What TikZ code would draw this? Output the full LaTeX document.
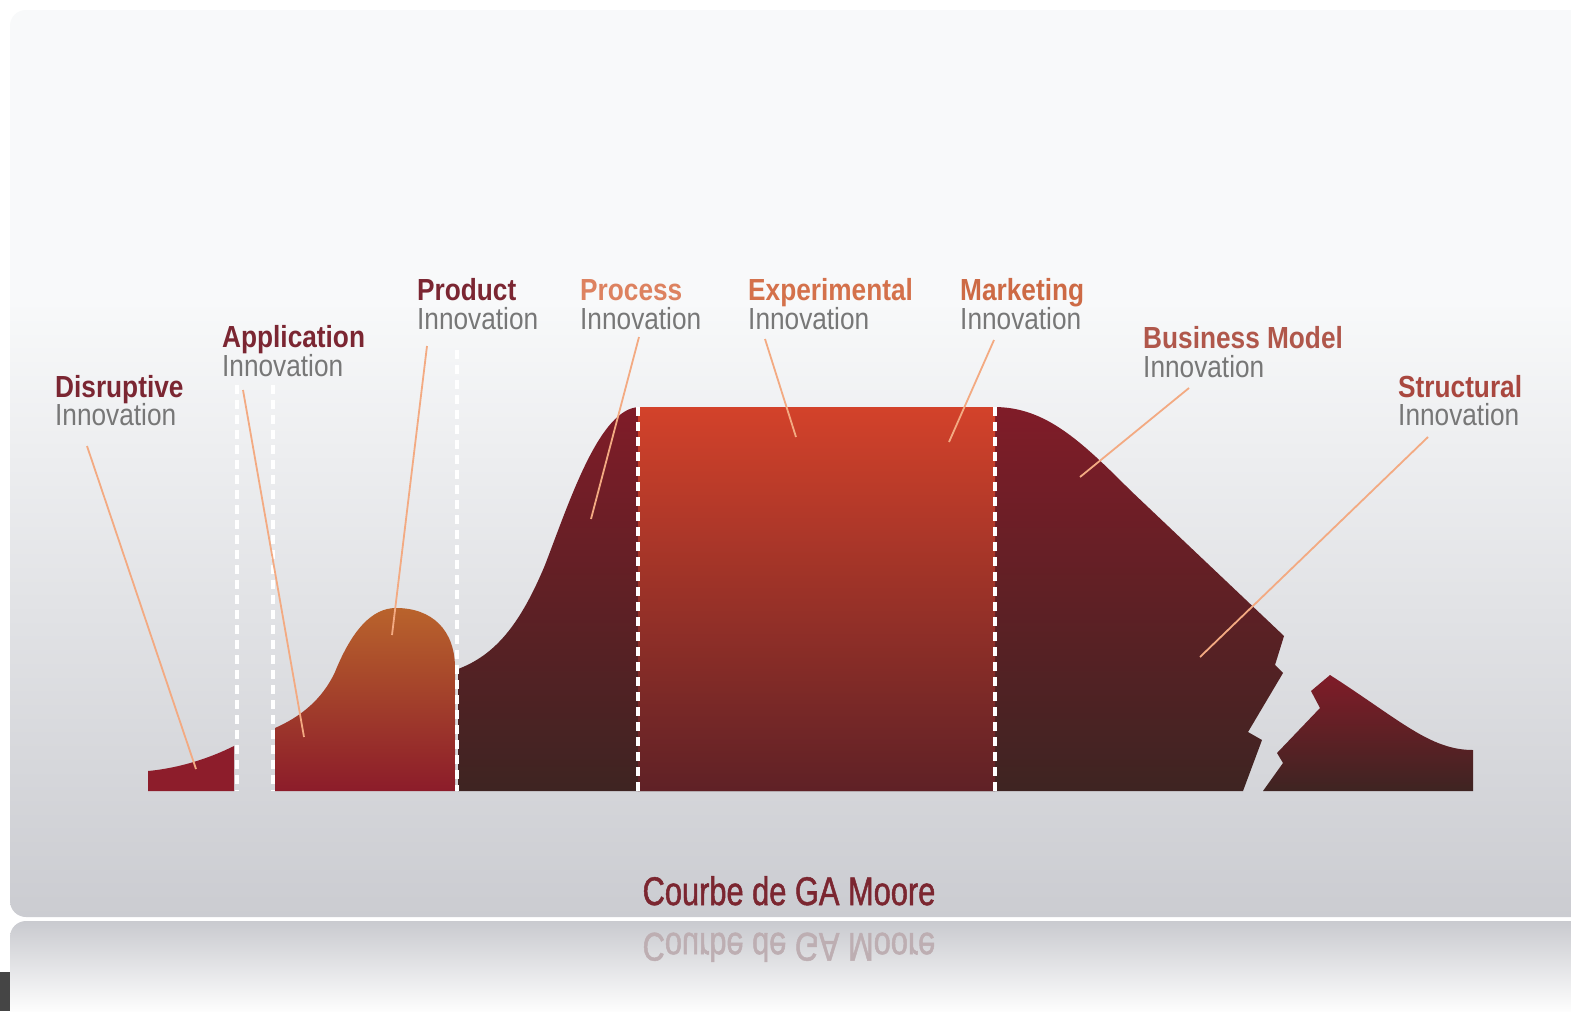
\documentclass[tikz,border=0pt]{standalone}
\usepackage{fontspec}
\newfontfamily\lblfont[FakeStretch=0.86]{Liberation Sans}
\newfontfamily\ttlfont[FakeStretch=0.77,FakeBold=1.2]{Liberation Sans}
\definecolor{bgTop}{HTML}{F8F9FA}
\definecolor{bgMid}{HTML}{E8E9EB}
\definecolor{bgBot}{HTML}{CBCCD1}
\definecolor{refTop}{HTML}{C9CACF}
\definecolor{refMid}{HTML}{DEDFE2}
\definecolor{refBot}{HTML}{FDFDFD}
\definecolor{maroonT}{HTML}{7B2632}
\definecolor{procT}{HTML}{DD8260}
\definecolor{expT}{HTML}{D4714B}
\definecolor{mktT}{HTML}{CD6A45}
\definecolor{bizT}{HTML}{B0574B}
\definecolor{strT}{HTML}{A9473F}
\definecolor{innoG}{HTML}{777777}
\definecolor{leaderC}{HTML}{F3AA82}
\definecolor{titleC}{HTML}{7B2630}
\definecolor{reflC}{HTML}{BDAEB2}
\definecolor{sOne}{HTML}{8D1D2B}
\definecolor{sTwoTop}{HTML}{B9632C}
\definecolor{sTwoMid}{HTML}{A3422B}
\definecolor{sTwoBot}{HTML}{8C1C2A}
\definecolor{bigTop}{HTML}{801C28}
\definecolor{bigMid}{HTML}{621F26}
\definecolor{bigBot}{HTML}{3E2422}
\definecolor{midTop}{HTML}{D3422A}
\definecolor{midMid}{HTML}{A02B2C}
\definecolor{midBot}{HTML}{5F2126}
\definecolor{darkBlock}{HTML}{454545}
\begin{document}
\begin{tikzpicture}[x=1bp,y=-1bp,
  lbl/.style={font=\lblfont\bfseries\fontsize{30.5bp}{30bp}\selectfont, anchor=base west, inner sep=0pt},
  inno/.style={font=\lblfont\fontsize{30.5bp}{30bp}\selectfont, text=innoG, anchor=base west, inner sep=0pt},
  leader/.style={draw=leaderC, line width=1.8bp},
  divider/.style={draw=white, line width=4bp, dash pattern=on 9bp off 6bp},
  ttl/.style={font=\ttlfont\fontsize{40bp}{40bp}\selectfont, anchor=base, inner sep=0pt}]
\def\bigpath{(458,791) -- (458,669) .. controls (495,655) and (520,625) .. (545,565) .. controls (570,500) and (600,407) .. (640,407) -- (994,407) .. controls (1045,407) and (1080,440) .. (1130,490) -- (1284,636) -- (1275,665) -- (1283,673) -- (1248,732) -- (1262,740) -- (1243,791) -- cycle}
\useasboundingbox (0,0) rectangle (1571,1011);
\fill[white] (0,0) rectangle (1571,1011);
% main panel
\begin{scope}
  \clip[rounded corners=16bp] (10,10) rectangle (1600,917);
  \fill[bgTop] (10,10) rectangle (1600,301);
  \shade[top color=bgTop, middle color=bgMid, bottom color=bgBot] (10,300) rectangle (1600,917);
\end{scope}
% reflection panel
\begin{scope}
  \clip[rounded corners=16bp] (10,921) rectangle (1600,1100);
  \shade[top color=refTop, middle color=refMid, bottom color=refBot] (10,921) rectangle (1600,1011);
\end{scope}
\fill[darkBlock] (0,972) rectangle (10,1011);
% shapes
\fill[sOne] (148,791) -- (148,771) .. controls (180,768) and (210,758) .. (234,746) -- (234,791) -- cycle;
\shade[top color=sTwoTop, middle color=sTwoMid, bottom color=sTwoBot]
  (275,791) -- (275,728) .. controls (300,717) and (322,700) .. (335,672)
  .. controls (352,630) and (372,608) .. (396,608)
  .. controls (432,608) and (455,630) .. (455,668) -- (455,791) -- cycle;
\shade[top color=bigTop, middle color=bigMid, bottom color=bigBot] \bigpath;
\begin{scope}
  \clip \bigpath;
  \shade[top color=midTop, middle color=midMid, bottom color=midBot] (638,407) rectangle (995,791);
\end{scope}
\shade[top color=bigTop, middle color=bigMid, bottom color=bigBot]
  (1263,791) -- (1283,763) -- (1277,753) -- (1320,708) -- (1311,691) -- (1330,675)
  .. controls (1400,720) and (1430,750) .. (1473,750) -- (1473,791) -- cycle;
% dividers
\draw[divider] (237,385) -- (237,791);
\draw[divider] (273,385) -- (273,791);
\draw[divider] (457,350) -- (457,791);
\draw[divider] (638,407) -- (638,791);
\draw[divider] (995,407) -- (995,791);
% labels
\node[lbl, text=maroonT] (disT) at (55,397) {Disruptive};
\node[inno] (disI) at (55,425) {Innovation};
\node[lbl, text=maroonT] (appT) at (222,347) {Application};
\node[inno] (appI) at (222,376) {Innovation};
\node[lbl, text=maroonT] (proT) at (417,300) {Product};
\node[inno] (proI) at (417,329) {Innovation};
\node[lbl, text=procT] (pcsT) at (580,300) {Process};
\node[inno] (pcsI) at (580,329) {Innovation};
\node[lbl, text=expT] (expT) at (748,300) {Experimental};
\node[inno] (expI) at (748,329) {Innovation};
\node[lbl, text=mktT] (mktT) at (960,300) {Marketing};
\node[inno] (mktI) at (960,329) {Innovation};
\node[lbl, text=bizT] (bizT) at (1143,348) {Business Model};
\node[inno] (bizI) at (1143,377) {Innovation};
\node[lbl, text=strT] (strT) at (1398,397) {Structural};
\node[inno] (strI) at (1398,425) {Innovation};
% leader lines
\coordinate (disA) at (87,446);   \coordinate (disB) at (196,769);
\coordinate (appA) at (243,390);  \coordinate (appB) at (304,737);
\coordinate (proA) at (427,346);  \coordinate (proB) at (392,635);
\coordinate (pcsA) at (639,337);  \coordinate (pcsB) at (591,519);
\coordinate (expA) at (765,339);  \coordinate (expB) at (796,437);
\coordinate (mktA) at (994,340);  \coordinate (mktB) at (949,442);
\coordinate (bizA) at (1189,388); \coordinate (bizB) at (1080,477);
\coordinate (strA) at (1428,437); \coordinate (strB) at (1200,657);
\draw[leader] (disA) -- (disB);
\draw[leader] (appA) -- (appB);
\draw[leader] (proA) -- (proB);
\draw[leader] (pcsA) -- (pcsB);
\draw[leader] (expA) -- (expB);
\draw[leader] (mktA) -- (mktB);
\draw[leader] (bizA) -- (bizB);
\draw[leader] (strA) -- (strB);
% title and reflection
\node[ttl, text=titleC] (title) at (789,905) {Courbe de GA Moore};
\node[ttl, text=reflC, yscale=-1] (titleR) at (789,933) {Courbe de GA Moore};
\end{tikzpicture}
\end{document}
